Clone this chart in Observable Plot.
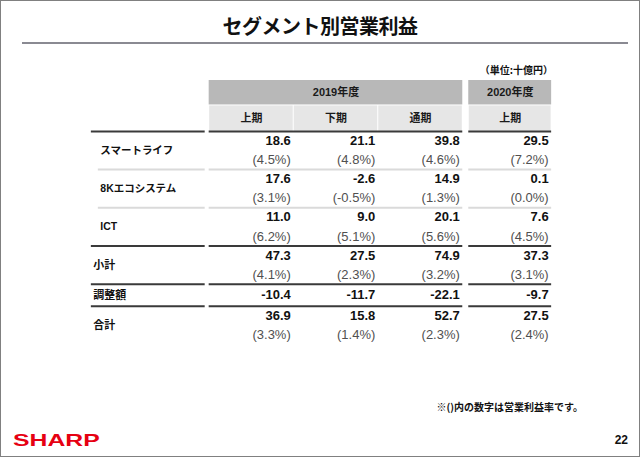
<!DOCTYPE html>
<html><head><meta charset="utf-8">
<script src="https://cdn.jsdelivr.net/npm/d3@7"></script>
<script src="https://cdn.jsdelivr.net/npm/@observablehq/plot@0.6"></script>
<style>
html,body{margin:0;padding:0;background:#fff;}
#page{position:relative;width:640px;height:457px;box-sizing:border-box;border:1px solid #808080;overflow:hidden;font-family:"Noto Sans CJK JP",sans-serif;color:#111;}
#title{position:absolute;left:0;right:0;top:11px;text-align:center;font-size:20px;font-weight:bold;line-height:28px;letter-spacing:-0.5px;}
#hr{position:absolute;left:21px;width:606px;top:41px;height:2px;background:#8a8a92;}
#unit{position:absolute;right:86px;top:62px;font-size:10px;font-weight:bold;line-height:14px;}
#chart{position:absolute;left:-1px;top:73px;}
#note{position:absolute;right:56px;top:400px;font-size:10px;font-weight:bold;line-height:12px;}
#logo{position:absolute;left:12px;top:430px;font-family:"Liberation Sans",Arial,sans-serif;font-weight:bold;font-size:16.5px;line-height:18px;color:#e60012;transform:scaleX(1.5);transform-origin:left center;}
#pageno{position:absolute;right:11px;top:432px;font-family:"Liberation Sans",Arial,sans-serif;font-weight:bold;font-size:12px;line-height:14px;}
</style>
</head><body>
<div id="page">
  <div id="title">セグメント別営業利益</div>
  <div id="hr"></div>
  <div id="unit">（単位:十億円）</div>
  <div id="chart"></div>
  <div id="note">※()内の数字は営業利益率です。</div>
  <div id="logo">SHARP</div>
  <div id="pageno">22</div>
</div>
<script>
// ---- data ----
const segments = ["スマートライフ", "8Kエコシステム", "ICT", "小計", "調整額", "合計"];
const years = ["2019年度", "2020年度"];
const periods = ["上期", "下期", "通期", "上期"];
const periodYears = ["2019年度", "2019年度", "2019年度", "2020年度"];
const profit2019H1 = [18.6, 17.6, 11.0, 47.3, -10.4, 36.9];
const profit2019H2 = [21.1, -2.6, 9.0, 27.5, -11.7, 15.8];
const profit2019FY = [39.8, 14.9, 20.1, 74.9, -22.1, 52.7];
const profit2020H1 = [29.5, 0.1, 7.6, 37.3, -9.7, 27.5];
const margin2019H1 = [4.5, 3.1, 6.2, 4.1, null, 3.3];
const margin2019H2 = [4.8, -0.5, 5.1, 2.3, null, 1.4];
const margin2019FY = [4.6, 1.3, 5.6, 3.2, null, 2.3];
const margin2020H1 = [7.2, 0.0, 4.5, 3.1, null, 2.4];
const businessSegmentCount = 3;

// ---- layout (slot units) ----
const profits = [profit2019H1, profit2019H2, profit2019FY, profit2020H1];
const margins = [margin2019H1, margin2019H2, margin2019FY, margin2020H1];
const GAP = 0.1;
const colStart = periodYears.map((y, j) => 1 + j + years.indexOf(y) * GAP);
const colEnd = colStart.map(s => s + 1);
const rowSpan = segments.map((s, i) => margins.some(m => m[i] != null) ? 2 : 1);
const rowStart = [];
{ let acc = 2; rowSpan.forEach(s => { rowStart.push(acc); acc += s; }); }

const yearGroups = years.map(y => {
  const js = periodYears.map((yy, j) => yy === y ? j : -1).filter(j => j >= 0);
  return {year: y, x1: colStart[js[0]], x2: colEnd[js[js.length - 1]]};
});
const periodCells = periods.map((p, j) => ({p, x1: colStart[j], x2: colEnd[j]}));
const cells = segments.flatMap((seg, i) => periods.map((p, j) => ({i, j, seg, profit: profits[j][i], margin: margins[j][i]})));
const labels = segments.map((s, i) => ({s, i, y: rowStart[i] + rowSpan[i] / 2, detail: i < businessSegmentCount}));

const boundaries = [{y: 2, light: false}].concat(
  segments.slice(0, -1).map((s, i) => ({y: rowStart[i] + rowSpan[i], light: i + 1 < businessSegmentCount}))
);
const tableLines = boundaries.flatMap(b => yearGroups.map(g => ({...b, x1: g.x1, x2: g.x2})));

const OFF = 74;
const numFont = "'Liberation Sans', Arial, 'Noto Sans CJK JP', sans-serif";
const jpFont = "'Noto Sans CJK JP', sans-serif";

const chart = Plot.plot({
  width: 640,
  height: 280,
  margin: 0,
  style: {fontFamily: numFont, background: "transparent"},
  x: {type: "linear", domain: [0, 1, 4, 4 + GAP, 5 + GAP], range: [91, 209, 463, 469, 552], axis: null},
  y: {type: "linear", domain: [0, 1, 2, 10, 11, 13], range: [80 - OFF, 105 - OFF, 131 - OFF, 284 - OFF, 306 - OFF, 345 - OFF], axis: null},
  marks: [
    Plot.rect(yearGroups, {x1: "x1", x2: "x2", y1: 0, y2: 1, fill: "#b8b8b8", insetBottom: 0.5}),
    Plot.rect(periodCells, {x1: "x1", x2: "x2", y1: 1, y2: 2, fill: "#e6e6e6", insetTop: 0.5, insetLeft: 0.5, insetRight: 0.5}),
    Plot.text(yearGroups, {x: d => (d.x1 + d.x2) / 2, y: 0.5, text: "year", fontWeight: "bold", fontSize: 11, fill: "#1a1a1a"}),
    Plot.text(periodCells, {x: d => (d.x1 + d.x2) / 2, y: 1.5, text: "p", fontWeight: "bold", fontSize: 11, fill: "#1a1a1a", fontFamily: jpFont}),
    // row separators
    Plot.ruleY(tableLines.filter(d => d.light), {y: "y", x1: "x1", x2: "x2", stroke: "#dadada", strokeWidth: 2}),
    Plot.ruleY(boundaries.filter(d => d.light), {y: "y", x1: 0, x2: 1, stroke: "#dadada", strokeWidth: 2, insetLeft: 7, insetRight: 4}),
    Plot.ruleY(tableLines.filter(d => !d.light), {y: "y", x1: "x1", x2: "x2", stroke: "#3a3a3a", strokeWidth: 2}),
    Plot.ruleY(boundaries.filter(d => !d.light), {y: "y", x1: 0, x2: 1, stroke: "#3a3a3a", strokeWidth: 2, insetRight: 4}),
    // labels
    Plot.text(labels.filter(d => d.detail), {x: 0, y: "y", text: "s", textAnchor: "start", dx: 9, fontWeight: "bold", fontSize: 10.5, fill: "#111", fontFamily: numFont}),
    Plot.text(labels.filter(d => !d.detail), {x: 0, y: "y", text: "s", textAnchor: "start", dx: 2, fontWeight: "bold", fontSize: 11, fill: "#111", fontFamily: jpFont}),
    // values
    Plot.text(cells, {x: d => colEnd[d.j], y: d => rowStart[d.i] + 0.5, text: d => d.profit.toFixed(1), textAnchor: "end", dx: -3, fontWeight: "bold", fontSize: 13, fill: "#111"}),
    Plot.text(cells.filter(d => d.margin != null), {x: d => colEnd[d.j], y: d => rowStart[d.i] + 1.5, text: d => `(${d.margin.toFixed(1)}%)`, textAnchor: "end", dx: -3, fontSize: 13, fill: "#505050"})
  ]
});
document.getElementById("chart").appendChild(chart);
</script>
</body></html>
